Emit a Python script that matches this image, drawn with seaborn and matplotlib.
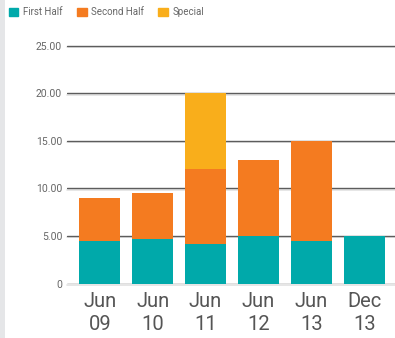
import matplotlib
matplotlib.use("Agg")
import matplotlib.pyplot as plt
import matplotlib.patches as mpatches
import matplotlib.transforms as mtransforms
import seaborn as sns
import pandas as pd
import numpy as np

categories = ["Jun\n09", "Jun\n10", "Jun\n11", "Jun\n12", "Jun\n13", "Dec\n13"]
first_half = [4.5, 4.7, 4.2, 5.0, 4.5, 5.0]
second_half = [4.5, 4.8, 7.8, 8.0, 10.5, 0.0]
special = [0.0, 0.0, 8.0, 0.0, 0.0, 0.0]
y_ticks = [0, 5, 10, 15, 20, 25]
y_tick_labels = ["0", "5.00", "10.00", "15.00", "20.00", "25.00"]
series_names = ["First Half", "Second Half", "Special"]
colors = ["#00A9AA", "#F47B20", "#F9AE1B"]

sns.set_theme(style="white")
plt.rcParams["font.family"] = ["Roboto", "DejaVu Sans"]

df = pd.DataFrame({
    "cat": categories,
    "first": first_half,
    "second": second_half,
    "special": special,
})
df["c1"] = df["first"]
df["c2"] = df["first"] + df["second"]
df["c3"] = df["c2"] + df["special"]

fig = plt.figure(figsize=(3.95, 3.38), dpi=100)
ax = fig.add_axes([67 / 395, 54.5 / 338, 1 - 67 / 395, 243.5 / 338])

# left gray strip
fig.patches.append(mpatches.Rectangle((0, 0), 5 / 395, 1, transform=fig.transFigure,
                                      facecolor="#e5e6e8", edgecolor="none", zorder=0))

# gridlines with subtle shadow
shadow = mtransforms.offset_copy(ax.transData, fig=fig, x=0, y=-1.5, units="dots")
for v in y_ticks:
    ax.plot([-0.62, 5.58], [v, v], color="#e2e2e2", lw=1.2, zorder=0.5,
            transform=shadow, clip_on=False)
    ax.axhline(v, color="#5c5c5c", lw=1.0, zorder=0.6)

w = 0.775
sns.barplot(data=df, x="cat", y="c3", color=colors[2], width=w, saturation=1, ax=ax, zorder=2)
sns.barplot(data=df, x="cat", y="c2", color=colors[1], width=w, saturation=1, ax=ax, zorder=3)
sns.barplot(data=df, x="cat", y="c1", color=colors[0], width=w, saturation=1, ax=ax, zorder=4)
for p in ax.patches:
    p.set_linewidth(0)

ax.set_xlim(-0.62, 5.58)
ax.set_ylim(0, 25.6)
ax.set_yticks(y_ticks)
ax.set_yticklabels(y_tick_labels, fontsize=7.5, color="#666666")
ax.tick_params(axis="y", length=0, pad=3.5)
ax.tick_params(axis="x", length=0, pad=6, labelsize=14.5, labelcolor="#555555")
for lab in ax.get_xticklabels():
    lab.set_linespacing(1.3)
ax.set_xlabel("")
ax.set_ylabel("")
for s in ax.spines.values():
    s.set_visible(False)
ax.grid(False)

handles = [mpatches.Patch(color=c, label=n) for c, n in zip(colors, series_names)]
leg = fig.legend(handles=handles, loc="upper left", bbox_to_anchor=(0.012, 0.99), ncol=3,
                 frameon=False, fontsize=7, handlelength=1.0, handleheight=1.0,
                 handletextpad=0.45, columnspacing=1.5, borderaxespad=0)
for t in leg.get_texts():
    t.set_color("#666666")

fig.savefig("out.png", dpi=100)
